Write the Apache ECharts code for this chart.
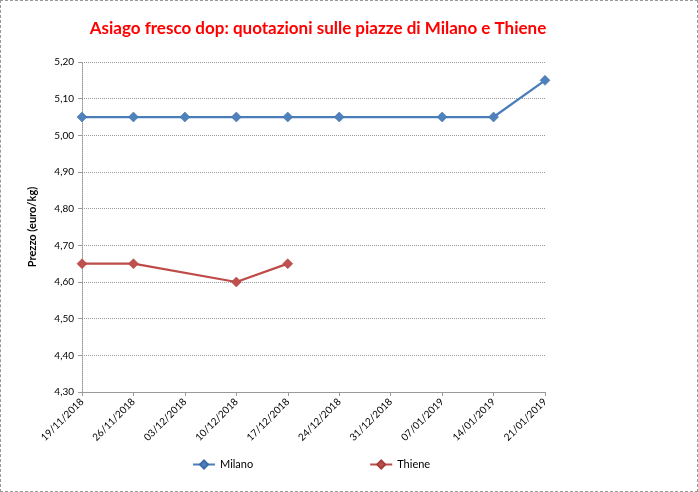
<!DOCTYPE html>
<html><head><meta charset="utf-8">
<script src="https://cdn.jsdelivr.net/npm/echarts@6/dist/echarts.min.js"></script>
<style>
html,body{margin:0;padding:0;background:#fff;}
#c{width:698px;height:492px;box-sizing:border-box;border:1px dashed #999;}
</style></head>
<body><div id="c"></div>
<script>
const categories = ['19/11/2018','26/11/2018','03/12/2018','10/12/2018','17/12/2018','24/12/2018','31/12/2018','07/01/2019','14/01/2019','21/01/2019'];
const milano = [5.05,5.05,5.05,5.05,5.05,5.05,null,5.05,5.05,5.15];
const thiene = [4.65,4.65,null,4.60,4.65,null,null,null,null,null];
const chart = echarts.init(document.getElementById('c'));
const F = 'Lato, "Open Sans", sans-serif';
chart.setOption({
  animation:false,
  textStyle:{fontFamily:F},
  title:{text:'Asiago fresco dop: quotazioni sulle piazze di Milano e Thiene',left:312,textAlign:'center',top:14,
    textStyle:{color:'#FF0000',fontSize:17,fontWeight:'bold',fontFamily:F}},
  grid:{left:81,right:152,top:61,bottom:99,containLabel:false},
  legend:{bottom:16,left:186,itemGap:116,itemWidth:22,itemHeight:10,
    textStyle:{fontSize:11,color:'#000',fontFamily:F},
    data:['Milano','Thiene']},
  xAxis:{type:'category',data:categories,boundaryGap:false,
    axisLine:{lineStyle:{color:'#999'}},
    axisTick:{show:true,alignWithLabel:true,lineStyle:{color:'#999'},length:4},
    axisLabel:{rotate:45,fontSize:10,color:'#000',interval:0,margin:8,fontFamily:F},
    splitLine:{show:false}},
  yAxis:{type:'value',min:4.3,max:5.2,interval:0.1,name:'Prezzo (euro/kg)',nameLocation:'middle',nameGap:44,
    nameTextStyle:{fontSize:11,fontWeight:'bold',color:'#000',fontFamily:F},
    axisLine:{show:true,lineStyle:{color:'#999',type:'dotted'}},
    axisTick:{show:true,length:4,lineStyle:{color:'#999'}},
    axisLabel:{fontSize:10,color:'#000',margin:8,fontFamily:F,formatter:v=>v.toFixed(2).replace('.',',')},
    splitLine:{show:true,lineStyle:{color:'#999',type:'dotted',width:1}}},
  series:[
    {name:'Milano',type:'line',data:milano,connectNulls:true,symbol:'diamond',symbolSize:10,
      lineStyle:{color:'#4A7EBB',width:2.25},itemStyle:{color:'#4F81BD',borderColor:'#3A6BA8',borderWidth:0.5}},
    {name:'Thiene',type:'line',data:thiene,connectNulls:true,symbol:'diamond',symbolSize:10,
      lineStyle:{color:'#BE4B48',width:2.25},itemStyle:{color:'#C0504D',borderColor:'#A33F3C',borderWidth:0.5}}
  ]
});
</script></body></html>
